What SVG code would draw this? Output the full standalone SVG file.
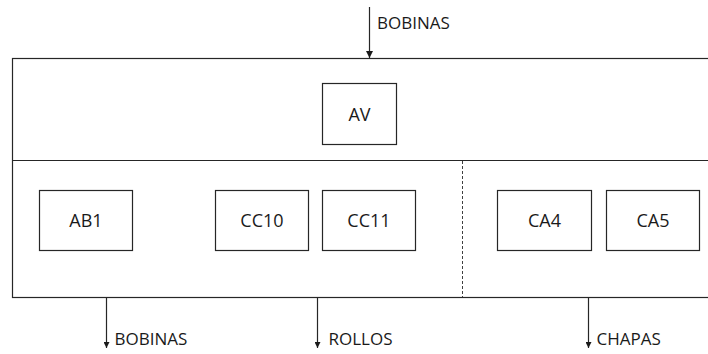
<svg xmlns="http://www.w3.org/2000/svg" width="708" height="354" viewBox="0 0 708 354">
  <defs>
    <style>
      .box { fill: #ffffff; stroke: #262626; stroke-width: 1.2; }
      .line { fill: none; stroke: #262626; stroke-width: 1.2; }
      .dash { fill: none; stroke: #404040; stroke-width: 1; stroke-dasharray: 3 2; }
      .lbl { font-family: "Open Sans", "Liberation Sans", sans-serif; font-size: 17px; fill: #1a1a1a; }
      .name { font-size: 18px; text-anchor: middle; }
    </style>
    <marker id="head" viewBox="0 0 10 10" refX="10" refY="5" markerWidth="6" markerHeight="6" markerUnits="userSpaceOnUse" orient="auto">
      <path d="M0,0 L10,5 L0,10 z" fill="#1a1a1a"/>
    </marker>
    <marker id="headBig" viewBox="0 0 10 10" refX="10" refY="5" markerWidth="7" markerHeight="7" markerUnits="userSpaceOnUse" orient="auto">
      <path d="M0,0 L10,5 L0,10 z" fill="#1a1a1a"/>
    </marker>
  </defs>
  <rect width="708" height="354" fill="#ffffff"/>

  <!-- plant outline: upper zone and lower zone, open to the right -->
  <g id="plant">
    <rect class="line" x="12.5" y="58.5" width="720" height="239"/>
    <line class="line" x1="12.5" y1="160.5" x2="708" y2="160.5"/>
    <line class="dash" x1="462.5" y1="161" x2="462.5" y2="297"/>
  </g>

  <g id="node-av">
    <rect class="box" x="322.5" y="83.5" width="74" height="61"/>
    <text class="lbl name" x="359.5" y="120.5">AV</text>
  </g>
  <g id="node-ab1">
    <rect class="box" x="39.5" y="190.5" width="93" height="60"/>
    <text class="lbl name" x="86" y="227">AB1</text>
  </g>
  <g id="node-cc10">
    <rect class="box" x="215.5" y="190.5" width="93" height="60"/>
    <text class="lbl name" x="262" y="227">CC10</text>
  </g>
  <g id="node-cc11">
    <rect class="box" x="322.5" y="190.5" width="93" height="60"/>
    <text class="lbl name" x="369" y="227">CC11</text>
  </g>
  <g id="node-ca4">
    <rect class="box" x="497.5" y="190.5" width="94" height="60"/>
    <text class="lbl name" x="544.5" y="227">CA4</text>
  </g>
  <g id="node-ca5">
    <rect class="box" x="606.5" y="190.5" width="93" height="60"/>
    <text class="lbl name" x="653" y="227">CA5</text>
  </g>

  <!-- material flows in and out -->
  <g id="connectors">
    <line class="line" x1="369.5" y1="7" x2="369.5" y2="58" marker-end="url(#headBig)"/>
    <line class="line" x1="106.5" y1="298" x2="106.5" y2="348" marker-end="url(#head)"/>
    <line class="line" x1="317.5" y1="298" x2="317.5" y2="348" marker-end="url(#head)"/>
    <line class="line" x1="588.5" y1="298" x2="588.5" y2="348" marker-end="url(#head)"/>
  </g>
  <g id="flow-labels">
    <text class="lbl" x="377" y="29">BOBINAS</text>
    <text class="lbl" x="114.5" y="345">BOBINAS</text>
    <text class="lbl" x="328.5" y="345">ROLLOS</text>
    <text class="lbl" x="596.5" y="345">CHAPAS</text>
  </g>
</svg>
